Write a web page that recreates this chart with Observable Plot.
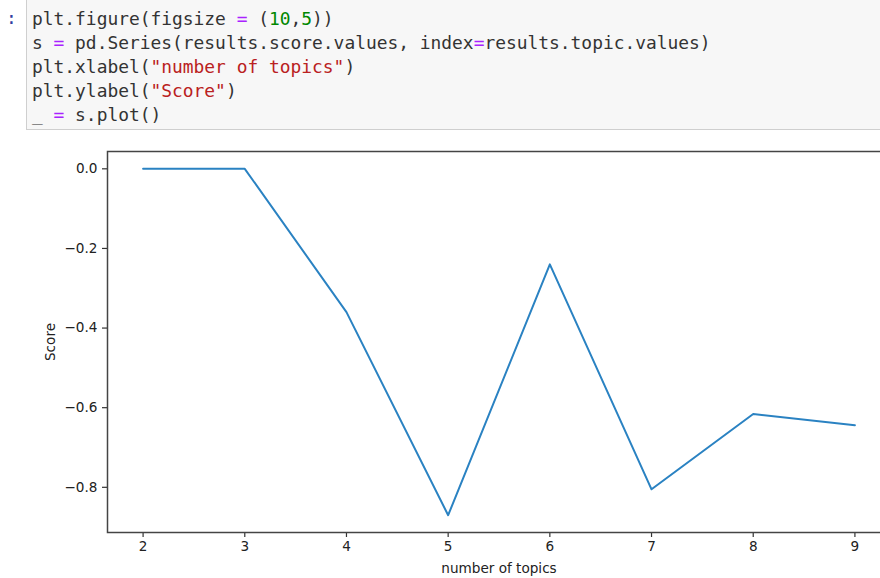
<!DOCTYPE html>
<html>
<head>
<meta charset="utf-8">
<script src="https://cdn.jsdelivr.net/npm/d3@7"></script>
<script src="https://cdn.jsdelivr.net/npm/@observablehq/plot@0.6"></script>
<style>
  html, body { margin: 0; padding: 0; background: #fff; overflow: hidden; width: 880px; height: 578px; }
  #page { position: relative; width: 880px; height: 578px; overflow: hidden; }
  #prompt { position: absolute; left: 6px; top: 6px; font-family: "DejaVu Sans Mono", monospace; font-size: 17.9px; line-height: 24px; color: #303F9F; }
  #cell { position: absolute; left: 26px; top: -2px; width: 870px; height: 132px; background: #f7f7f7; border: 1px solid #cfcfcf; box-sizing: border-box; }
  #code { position: absolute; left: 5px; top: 8px; font-family: "DejaVu Sans Mono", monospace; font-size: 17.9px; line-height: 24px; color: #333; }
  #code div { height: 24px; white-space: pre; }
  .o { color: #AA22FF; }
  .n { color: #008800; }
  .s { color: #BA2121; }
  #chart { position: absolute; left: 0; top: 140px; width: 900px; }
  #chart svg { max-width: none !important; }
</style>
</head>
<body>
<div id="page">
  <div id="prompt">:</div>
  <div id="cell"><div id="code"><div>plt.figure(figsize <span class="o">=</span> (<span class="n">10</span>,<span class="n">5</span>))</div><div>s <span class="o">=</span> pd.Series(results.score.values, index<span class="o">=</span>results.topic.values)</div><div>plt.xlabel(<span class="s">"number of topics"</span>)</div><div>plt.ylabel(<span class="s">"Score"</span>)</div><div>_ <span class="o">=</span> s.plot()</div></div></div>
  <div id="chart"></div>
</div>
<script>
const topics = [2, 3, 4, 5, 6, 7, 8, 9];
const scores = [0.0, 0.0, -0.36, -0.87, -0.24, -0.805, -0.616, -0.644];
const xTicks = [2, 3, 4, 5, 6, 7, 8, 9];
const yTicks = [0.0, -0.2, -0.4, -0.6, -0.8];
const xLabel = "number of topics";
const yLabel = "Score";

const data = topics.map((t, i) => ({topic: t, score: scores[i]}));
const xPad = (d3.max(topics) - d3.min(topics)) * 0.05;
const yPad = (d3.max(scores) - d3.min(scores)) * 0.05;

const chart = Plot.plot({
  width: 900,
  height: 438,
  marginLeft: 107,
  marginRight: 10,
  marginTop: 11,
  marginBottom: 46,
  style: {fontFamily: "DejaVu Sans", fontSize: "13.6px", color: "#222", background: "transparent", maxWidth: "none"},
  x: {domain: [d3.min(topics) - xPad, d3.max(topics) + xPad]},
  y: {domain: [d3.min(scores) - yPad, d3.max(scores) + yPad]},
  marks: [
    Plot.axisX({ticks: xTicks, tickSize: 5, tickPadding: 4, tickFormat: d3.format("d"), stroke: "#333", strokeWidth: 1.2,
      label: xLabel, labelAnchor: "center", labelArrow: "none", labelOffset: 40, fontSize: "13.6px"}),
    Plot.axisY({ticks: yTicks, tickSize: 5, tickPadding: 5, tickFormat: v => d3.format(".1f")(v).replace("-", "\u2212"), stroke: "#333", strokeWidth: 1.2,
      label: yLabel, labelAnchor: "center", labelArrow: "none", labelOffset: 62, fontSize: "13.6px"}),
    Plot.frame({stroke: "#444", strokeWidth: 1.5}),
    Plot.line(data, {x: "topic", y: "score", stroke: "#2a82c2", strokeWidth: 2})
  ]
});
document.getElementById("chart").appendChild(chart);
</script>
</body>
</html>
